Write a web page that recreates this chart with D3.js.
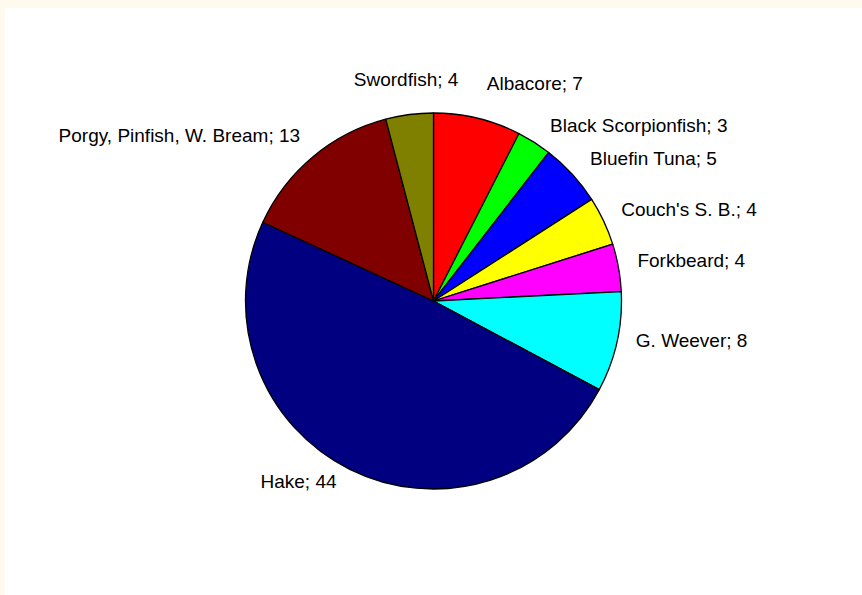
<!DOCTYPE html>
<html>
<head>
<meta charset="utf-8">
<script src="https://cdn.jsdelivr.net/npm/d3@7"></script>
<style>
  html, body { margin: 0; padding: 0; background: #fffaed; }
  svg { display: block; }
</style>
</head>
<body>
<svg id="chart" width="862" height="595"></svg>
<script>
// ---- data ----
const categories = ["Albacore", "Black Scorpionfish", "Bluefin Tuna", "Couch's S. B.", "Forkbeard", "G. Weever", "Hake", "Porgy, Pinfish, W. Bream", "Swordfish"];
const values = [6.8, 2.7, 4.9, 3.8, 3.7, 7.8, 44.4, 12.7, 3.7];
const colors = ["#ff0000", "#00ff00", "#0000ff", "#ffff00", "#ff00ff", "#00ffff", "#000080", "#800000", "#808000"];
// label fine placement (px) relative to the computed anchor
const labelNudgeX = [4.2, 4, 1.7, -2.4, -2.7, -2.6, -3.4, 1.5, -0.5];
const labelNudgeY = [-10.7, 4.3, 1.1, -1.5, -2.5, -7.5, -11, -2.3, -10.6];

const W = 862, H = 595;
const svg = d3.select("#chart");
svg.append("rect").attr("x", 5).attr("y", 8).attr("width", W - 5).attr("height", H - 8).attr("fill", "#ffffff");

const cx = 433.5, cy = 301, r = 188;
const labelRx = 210, labelRy = 213;

const pie = d3.pie().sort(null).value(d => d.v).startAngle(0).endAngle(2 * Math.PI);
const data = categories.map((c, i) => ({ c, v: values[i], col: colors[i], i }));
const arcs = pie(data);
const arc = d3.arc().innerRadius(0).outerRadius(r);

const g = svg.append("g").attr("transform", `translate(${cx},${cy})`);
g.selectAll("path").data(arcs).join("path")
  .attr("d", arc)
  .attr("fill", d => d.data.col)
  .attr("stroke", "#000")
  .attr("stroke-width", 1.3)
  .attr("stroke-linejoin", "round");

const fs = 19;
g.selectAll("text").data(arcs).join("text")
  .attr("font-family", "'Liberation Sans', Arial, sans-serif")
  .attr("font-size", fs)
  .attr("fill", "#000")
  .attr("text-anchor", d => {
    const a = (d.startAngle + d.endAngle) / 2;
    const s = Math.sin(a);
    return Math.abs(s) < 0.2 ? "middle" : (s > 0 ? "start" : "end");
  })
  .attr("x", d => {
    const a = (d.startAngle + d.endAngle) / 2;
    return labelRx * Math.sin(a) + labelNudgeX[d.data.i];
  })
  .attr("y", d => {
    const a = (d.startAngle + d.endAngle) / 2;
    return -labelRy * Math.cos(a) + 0.358 * fs + labelNudgeY[d.data.i];
  })
  .text(d => `${d.data.c}; ${Math.round(d.data.v)}`);
</script>
</body>
</html>
